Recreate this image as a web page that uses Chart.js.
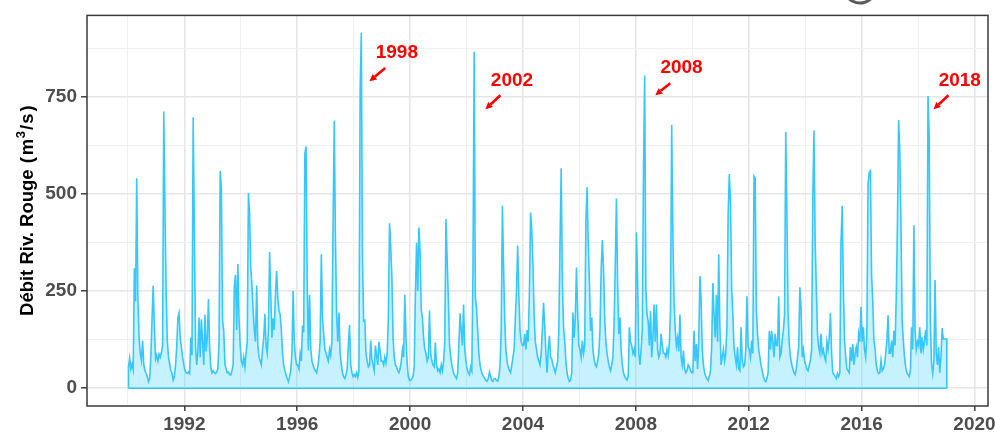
<!DOCTYPE html>
<html lang="fr">
<head>
<meta charset="UTF-8">
<title>Débit Riv. Rouge</title>
<script src="https://cdn.jsdelivr.net/npm/chart.js"></script>
<style>
  html, body { margin: 0; padding: 0; background: #fff; }
</style>
</head>
<body>
<canvas id="myChart" width="995" height="433"></canvas>
<script>
// débit journalier, deux valeurs par mois (m3/s)
const q1990 = [55,78,50,62,48,309,224,541,224,131,90,72,123,60,45,38,30,17,25,80,178,265,160,75];
const q1991 = [85,70,88,80,92,110,713,465,250,123,80,63,45,38,21,30,60,106,182,194,130,106,80,63];
const q1992 = [45,40,38,42,38,131,85,698,402,110,60,95,182,80,178,120,60,190,95,130,230,105,55,40];
const q1993 = [45,40,38,42,50,120,560,512,173,148,63,50,40,42,35,34,45,60,262,292,150,320,180,110];
const q1994 = [70,60,80,55,90,120,503,448,309,266,200,150,120,265,110,80,70,60,100,130,192,110,90,150];
const q1995 = [351,240,130,180,150,244,302,233,200,190,150,90,60,45,35,25,17,30,45,90,251,120,80,60];
const q1996 = [60,50,90,70,162,144,605,623,266,97,241,105,70,60,50,45,40,55,80,120,345,180,140,100];
const q1997 = [90,80,70,100,85,120,425,689,385,190,120,195,90,60,40,30,25,35,50,112,163,60,40,30];
const q1998 = [35,30,40,28,45,766,916,333,173,175,89,70,55,60,123,75,60,45,110,85,60,120,95,70];
const q1999 = [70,60,80,65,90,180,425,368,288,130,80,60,55,45,40,50,70,100,80,241,130,64,30,20];
const q2000 = [20,25,30,55,241,375,250,414,351,203,180,131,100,90,70,80,200,90,70,60,55,118,60,45];
const q2001 = [50,40,60,45,70,120,436,334,233,114,80,60,45,35,30,25,40,114,193,150,110,216,100,70];
const q2002 = [50,40,35,55,45,315,867,234,207,148,90,60,45,35,30,25,20,18,25,42,30,20,18,25];
const q2003 = [25,20,18,30,60,150,470,313,173,97,70,55,45,40,60,80,100,180,250,368,241,148,120,110];
const q2004 = [110,140,100,150,120,250,453,406,317,190,120,100,80,70,60,90,150,220,160,90,40,100,135,80];
const q2005 = [75,60,50,40,55,70,150,368,567,275,157,123,70,40,25,17,20,40,195,130,180,311,199,110];
const q2006 = [100,80,123,90,110,425,518,376,275,148,182,100,75,60,55,70,90,150,305,382,309,182,120,90];
const q2007 = [70,55,45,60,80,165,317,489,266,140,182,97,60,40,30,25,21,30,157,120,110,90,100,80];
const q2008 = [402,283,90,60,100,150,556,806,258,190,173,110,199,80,131,216,120,216,100,80,90,140,110,90];
const q2009 = [90,80,100,85,115,200,679,391,224,150,110,130,95,190,80,60,97,50,40,45,60,55,45,40];
const q2010 = [40,148,70,114,50,120,289,228,97,60,40,30,25,20,30,45,106,271,190,131,241,120,345,157];
const q2011 = [60,80,100,70,90,161,448,552,480,258,190,106,80,60,106,50,45,157,70,55,60,100,237,106];
const q2012 = [100,80,123,90,547,542,199,140,100,80,60,45,30,20,17,25,40,148,100,148,120,80,140,110];
const q2013 = [110,237,80,90,123,150,190,660,444,190,114,80,63,50,40,35,50,80,106,260,207,80,100,70];
const q2014 = [60,50,45,60,72,100,482,664,381,258,140,106,90,140,90,100,80,70,120,100,130,194,90,40];
const q2015 = [35,30,25,38,30,40,376,470,258,123,80,50,45,40,106,70,114,60,90,106,80,140,120,210];
const q2016 = [120,157,100,80,140,529,556,560,292,224,123,100,60,45,38,40,72,45,50,60,90,120,188,90];
const q2017 = [90,123,80,148,110,237,423,691,609,423,173,123,80,55,40,35,30,45,157,100,420,148,100,120];
const q2018 = [110,157,90,131,100,120,150,110,753,650,173,63,38,70,279,89,60,106,40,80,155,127,127,127];
const q2019 = [127];

const firstYear = 1990;
const yearly = [q1990,q1991,q1992,q1993,q1994,q1995,q1996,q1997,q1998,q1999,
                q2000,q2001,q2002,q2003,q2004,q2005,q2006,q2007,q2008,q2009,
                q2010,q2011,q2012,q2013,q2014,q2015,q2016,q2017,q2018,q2019];

// axes
const xTicks = [1992, 1996, 2000, 2004, 2008, 2012, 2016, 2020];
const xMinor = [1990, 1994, 1998, 2002, 2006, 2010, 2014, 2018];
const yTicks = [0, 250, 500, 750];
const yMinor = [125, 375, 625, 875];

// crues annotées
const peakLabels = ['1998', '2002', '2008', '2018'];
const labelPosX = [1999.53, 2003.61, 2009.62, 2019.48];
const labelPosY = [865, 793, 827, 792];
const arrowFromX = [1999.12, 2003.2, 2009.22, 2019.08];
const arrowFromY = [825, 755, 786, 755];
const arrowToX = [1998.56, 2002.67, 2008.69, 2018.55];
const arrowToY = [791, 719, 755, 719];

const FONT = '"Liberation Sans", Arial, sans-serif';

// série complète
const pts = [];
yearly.forEach((arr, k) => {
    arr.forEach((v, i) => pts.push({x: firstYear + k + (i + 0.5) / 24, y: v}));
});
const x0 = pts[0].x, x1 = pts[pts.length - 1].x;
const series = [{x: x0, y: 0}, ...pts, {x: x1, y: 0}];
const baseline = [{x: x0, y: 0}, {x: x1, y: 0}];

const xAll = xTicks.concat(xMinor).sort((a, b) => a - b);
const yAll = yTicks.concat(yMinor).sort((a, b) => a - b);

const extras = {
    id: 'extras',
    afterDraw(chart) {
        const ctx = chart.ctx;
        const a = chart.chartArea;
        const sx = chart.scales.x, sy = chart.scales.y;

        // cadre du panneau
        ctx.save();
        ctx.strokeStyle = '#3a3a3a';
        ctx.lineWidth = 1.5;
        ctx.strokeRect(a.left, a.top, a.right - a.left, a.bottom - a.top);
        ctx.restore();

        // annotations rouges
        ctx.save();
        ctx.fillStyle = '#FF0000';
        ctx.strokeStyle = '#FF0000';
        ctx.font = 'bold 19px ' + FONT;
        ctx.textAlign = 'center';
        ctx.textBaseline = 'middle';
        peakLabels.forEach((t, i) => {
            ctx.fillText(t, sx.getPixelForValue(labelPosX[i]), sy.getPixelForValue(labelPosY[i]));
            const ax = sx.getPixelForValue(arrowFromX[i]), ay = sy.getPixelForValue(arrowFromY[i]);
            const bx = sx.getPixelForValue(arrowToX[i]), by = sy.getPixelForValue(arrowToY[i]);
            const ang = Math.atan2(by - ay, bx - ax);
            const len = 7, hw = 3.5;
            const cx = bx - len * Math.cos(ang), cy = by - len * Math.sin(ang);
            ctx.lineWidth = 2.6;
            ctx.beginPath();
            ctx.moveTo(ax, ay);
            ctx.lineTo(cx, cy);
            ctx.stroke();
            ctx.beginPath();
            ctx.moveTo(bx, by);
            ctx.lineTo(cx + hw * Math.sin(ang), cy - hw * Math.cos(ang));
            ctx.lineTo(cx - hw * Math.sin(ang), cy + hw * Math.cos(ang));
            ctx.closePath();
            ctx.fill();
        });
        ctx.restore();

        // titre de l'axe y avec exposant
        const big = 'bold 18.5px ' + FONT;
        const small = 'bold 13px ' + FONT;
        const parts = [
            {t: 'Débit Riv. Rouge', f: big, dy: 0, gap: 6},
            {t: '(', f: big, dy: 0, gap: 2},
            {t: 'm', f: big, dy: 0, gap: 0.5},
            {t: '3', f: small, dy: -8, gap: 1},
            {t: '/', f: big, dy: 0, gap: 1},
            {t: 's', f: big, dy: 0, gap: 2},
            {t: ')', f: big, dy: 0, gap: 0}
        ];
        ctx.save();
        let total = 0;
        parts.forEach(p => { ctx.font = p.f; p.w = ctx.measureText(p.t).width; total += p.w + p.gap; });
        ctx.translate(33, (a.top + a.bottom) / 2);
        ctx.rotate(-Math.PI / 2);
        ctx.fillStyle = '#000';
        ctx.textBaseline = 'alphabetic';
        ctx.textAlign = 'left';
        let cur = -total / 2;
        parts.forEach(p => { ctx.font = p.f; ctx.fillText(p.t, cur, p.dy); cur += p.w + p.gap; });
        ctx.restore();

        // arc gris en haut (bord de logo)
        ctx.save();
        ctx.strokeStyle = '#5a5a5a';
        ctx.lineWidth = 3;
        ctx.beginPath();
        ctx.arc(860, -13, 16, 0.15 * Math.PI, 0.85 * Math.PI);
        ctx.stroke();
        ctx.restore();
    }
};

const majorGrid = '#E6E6E6', minorGrid = '#F0F0F0';

new Chart(document.getElementById('myChart'), {
    type: 'line',
    data: {
        datasets: [{
            data: series,
            borderColor: '#36C8FB',
            backgroundColor: 'rgba(51, 204, 255, 0.28)',
            borderWidth: 1.6,
            pointRadius: 0,
            tension: 0,
            fill: 'origin'
        }, {
            data: baseline,
            borderColor: '#36C8FB',
            borderWidth: 1.6,
            pointRadius: 0,
            fill: false
        }]
    },
    plugins: [extras],
    options: {
        responsive: false,
        animation: false,
        devicePixelRatio: 1,
        parsing: false,
        layout: { padding: { top: 10, right: 7, left: 0, bottom: 0 } },
        plugins: { legend: { display: false }, tooltip: { enabled: false } },
        scales: {
            x: {
                type: 'linear',
                min: 1988.55,
                max: 2020.48,
                border: { display: false },
                afterBuildTicks: s => { s.ticks = xAll.map(v => ({value: v})); },
                afterFit: s => { s.height = 27; s.paddingLeft = 0; s.paddingRight = 0; },
                grid: {
                    color: c => (c.tick && xTicks.includes(c.tick.value)) ? majorGrid : minorGrid,
                    lineWidth: c => (c.tick && xTicks.includes(c.tick.value)) ? 1.6 : 1,
                    tickColor: c => (c.tick && xTicks.includes(c.tick.value)) ? '#333' : 'rgba(0,0,0,0)',
                    tickLength: 5,
                    tickWidth: 1.4
                },
                ticks: {
                    autoSkip: false,
                    maxRotation: 0,
                    padding: 2,
                    color: '#4D4D4D',
                    font: { family: FONT, size: 19, weight: 'bold' },
                    callback: v => xTicks.includes(v) ? String(v) : ''
                }
            },
            y: {
                type: 'linear',
                min: -45.75,
                max: 960.75,
                border: { display: false },
                afterBuildTicks: s => { s.ticks = yAll.map(v => ({value: v})); },
                afterFit: s => { s.width = 87; },
                grid: {
                    color: c => (c.tick && yTicks.includes(c.tick.value)) ? majorGrid : minorGrid,
                    lineWidth: c => (c.tick && yTicks.includes(c.tick.value)) ? 1.6 : 1,
                    tickColor: c => (c.tick && yTicks.includes(c.tick.value)) ? '#333' : 'rgba(0,0,0,0)',
                    tickLength: 6,
                    tickWidth: 1.4
                },
                ticks: {
                    autoSkip: false,
                    padding: 4,
                    color: '#4D4D4D',
                    font: { family: FONT, size: 19, weight: 'bold' },
                    callback: v => yTicks.includes(v) ? String(v) : ''
                }
            }
        }
    }
});
</script>
</body>
</html>
